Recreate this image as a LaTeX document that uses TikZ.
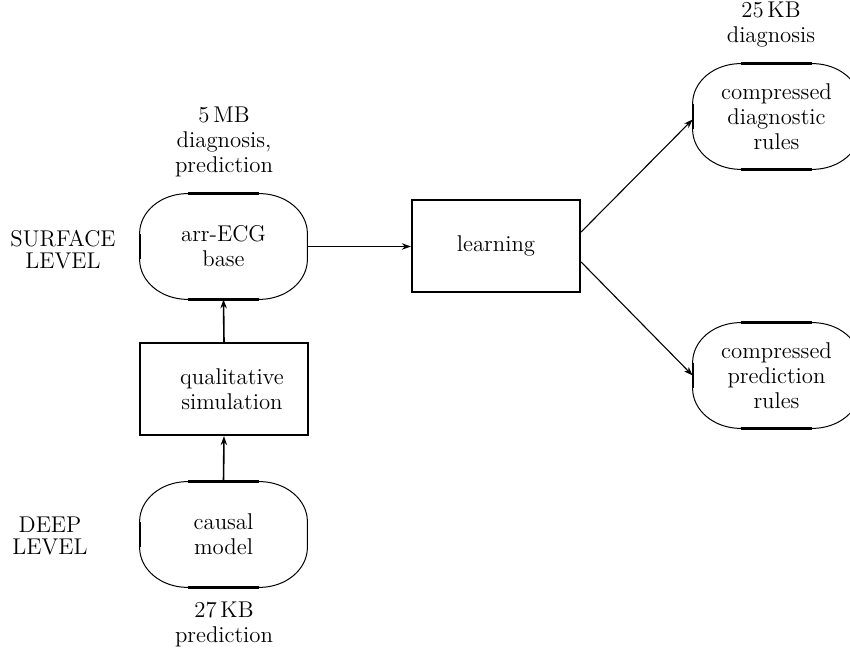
\documentclass[tikz,border=0pt]{standalone}
\usetikzlibrary{arrows.meta}
\newcommand\stadoutline[1]{%
  \draw[outl] ([xshift=24pt]#1.north west) -- ([xshift=-24pt]#1.north east)
    arc[start angle=90,end angle=0,x radius=24pt,y radius=20pt]
    -- ([yshift=20pt]#1.south east)
    arc[start angle=0,end angle=-90,x radius=24pt,y radius=20pt]
    -- ([xshift=24pt]#1.south west)
    arc[start angle=270,end angle=180,x radius=24pt,y radius=20pt]
    -- ([yshift=-20pt]#1.north west)
    arc[start angle=180,end angle=90,x radius=24pt,y radius=20pt] -- cycle;
  \draw[thickseg] ([xshift=24pt]#1.north west) -- ([xshift=-24pt]#1.north east);
  \draw[thickseg] ([xshift=24pt]#1.south west) -- ([xshift=-24pt]#1.south east);
  \draw[sideseg] ([yshift=-20pt]#1.north west) -- ([yshift=20pt]#1.south west);
  \draw[sideseg] ([yshift=-20pt]#1.north east) -- ([yshift=20pt]#1.south east);
}
\tikzset{
  txt/.style={font=\fontsize{11.4}{12.5}\selectfont, align=center, inner sep=0pt},
  stad/.style={txt, rectangle, minimum width=83.5pt, minimum height=52.5pt},
  procbox/.style={txt, rectangle, draw, line width=1.1pt, minimum width=84pt, minimum height=46pt},
  outl/.style={line width=0.5pt},
  thickseg/.style={line width=1.5pt},
  sideseg/.style={line width=0.9pt},
  conn/.style={line width=0.8pt, -{Stealth[length=4.5pt,width=3.2pt]}},
  thinconn/.style={line width=0.55pt, -{Stealth[length=4.5pt,width=3.2pt]}},
  lvl/.style={font=\fontsize{11.4}{11}\selectfont, align=center, inner sep=0pt}
}
\begin{document}
\begin{tikzpicture}[x=0.5pt,y=0.5pt]
\useasboundingbox (0,0) rectangle (850,647);
% shapes
\node[stad] (ecg) at (223.5,400.5) {arr-ECG\\base};
\node[procbox] (sim) at (224,258) {\hspace*{8pt}qualitative\\\hspace*{8pt}simulation};
\node[stad] (causal) at (223.5,112.5) {causal\\model};
\node[procbox] (learn) at (496,401) {learning};
\node[stad] (diag) at (776.5,530.5) {compressed\\diagnostic\\rules};
\node[stad] (pred) at (776.5,271.5) {compressed\\prediction\\rules};
\stadoutline{ecg}
\stadoutline{causal}
\stadoutline{diag}
\stadoutline{pred}
% labels
\node[txt] (lab5mb) at (224,505.5) {5\,MB\\diagnosis,\\prediction};
\node[txt] (lab27kb) at (224,23) {27\,KB\\prediction};
\node[txt] (lab25kb) at (771,622) {25\,KB\\diagnosis};
\node[lvl] (surf) at (63,397.5) {SURFACE\\LEVEL};
\node[lvl] (deep) at (50,111) {DEEP\\LEVEL};
% connectors
\draw[conn] (ecg.east) -- (ecg.east -| learn.west);
\draw[conn] (sim.north) -- (ecg.south);
\draw[conn] (causal.north) -- (sim.south);
\draw[thinconn] ([yshift=7pt]learn.east) -- ([yshift=-1.5pt]diag.west);
\draw[thinconn] ([yshift=-8pt]learn.east) -- (pred.west);
\end{tikzpicture}
\end{document}
